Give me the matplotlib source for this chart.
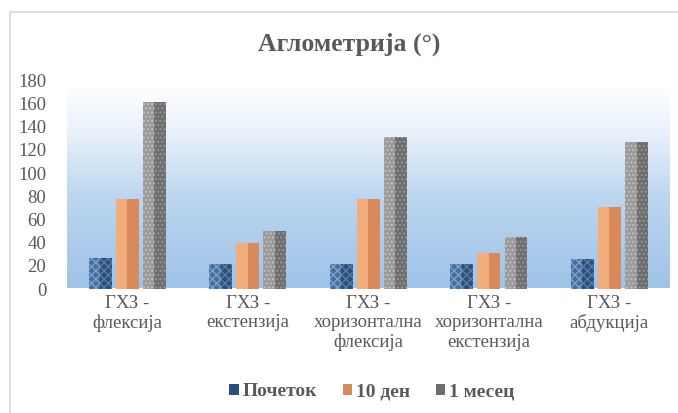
import numpy as np
import matplotlib
matplotlib.use("Agg")
import matplotlib.pyplot as plt
from matplotlib.colors import LinearSegmentedColormap
from matplotlib.lines import Line2D

# ── Data ──────────────────────────────────────────────────────────────────────

categories = [
    "ГХЗ -\nфлексија",
    "ГХЗ -\nекстензија",
    "ГХЗ -\nхоризонтална\nфлексија",
    "ГХЗ -\nхоризонтална\nекстензија",
    "ГХЗ -\nабдукција",
]
series_names = ["Почеток", "10 ден", "1 месец"]
pocetok = [27, 22, 22, 22, 26]
den_10  = [78, 40, 78, 31, 71]
mesec_1 = [161, 50, 131, 45, 127]
yticks  = [0, 20, 40, 60, 80, 100, 120, 140, 160, 180]

# light / dark halves give each bar a prism look
C_LIGHT = ["#3f6fa3", "#f2ad7c", "#9a9a9a"]
C_DARK  = ["#284f7e", "#d9895a", "#6e6e6e"]
HATCH   = ["xxxx", "", "...."]
TXT     = "#595959"

plt.rcParams["font.family"] = ["Liberation Serif", "DejaVu Serif"]

fig = plt.figure(figsize=(6.78, 4.13), dpi=100)
ax = fig.add_axes([0.0988, 0.300, 0.889, 0.506])

# outer chart frame (top and left edges)
fig.add_artist(Line2D([10 / 678, 10 / 678], [0, 1 - 12 / 413],
                      color="#d9d9d9", lw=1.2, transform=fig.transFigure))
fig.add_artist(Line2D([10 / 678, 1], [1 - 12 / 413, 1 - 12 / 413],
                      color="#d9d9d9", lw=1.2, transform=fig.transFigure))

x = np.arange(len(categories))
ax.set_xlim(-0.5, len(categories) - 0.5)
ax.set_ylim(0, 180)

# plot area gradient: white at top, light blue at the bottom
grad = LinearSegmentedColormap.from_list(
    "bg", [(0.0, "#9ec3e8"), (0.45, "#bcd6f0"), (0.75, "#e8f0fa"), (1.0, "#ffffff")])
g = np.linspace(0, 1, 256).reshape(-1, 1)
ax.imshow(g, cmap=grad, origin="lower", aspect="auto",
          extent=(-0.5, len(categories) - 0.5, 0, 176), zorder=0)
ax.axhline(0, color="white", lw=1.5, zorder=1)

w = 0.19
gap = 0.035
for i, vals in enumerate([pocetok, den_10, mesec_1]):
    xs = x + (i - 1) * (w + gap)
    ax.bar(xs - w / 4, vals, width=w / 2, color=C_LIGHT[i], lw=0, zorder=2,
           hatch=HATCH[i], edgecolor=(1, 1, 1, 0.35), label=series_names[i])
    ax.bar(xs + w / 4, vals, width=w / 2, color=C_DARK[i], lw=0, zorder=2,
           hatch=HATCH[i], edgecolor=(1, 1, 1, 0.25))

ax.set_xticks(x)
ax.set_xticklabels(categories, fontsize=13.5, color=TXT, linespacing=1.2)
ax.set_yticks(yticks)
ax.set_yticklabels([str(v) for v in yticks], fontsize=13.5, color=TXT)
ax.tick_params(axis="both", length=0)
ax.tick_params(axis="y", pad=15)
ax.tick_params(axis="x", pad=4)
for s in ax.spines.values():
    s.set_visible(False)

fig.text(349 / 678, 1 - 44 / 413, "Аглометрија (°)", ha="center", va="center",
         fontsize=18.5, fontweight="bold", color=TXT)

handles = [plt.Rectangle((0, 0), 1, 1, facecolor=C_DARK[i], edgecolor="none")
           for i in range(3)]
fig.legend(handles, series_names, loc="center", bbox_to_anchor=(372 / 678, 1 - 392 / 413),
           ncol=3, frameon=False, handlelength=0.5, handleheight=0.5,
           handletextpad=0.2, columnspacing=1.3,
           prop={"weight": "bold", "size": 14}, labelcolor=TXT)

fig.savefig("out.png", dpi=100, facecolor="white")
